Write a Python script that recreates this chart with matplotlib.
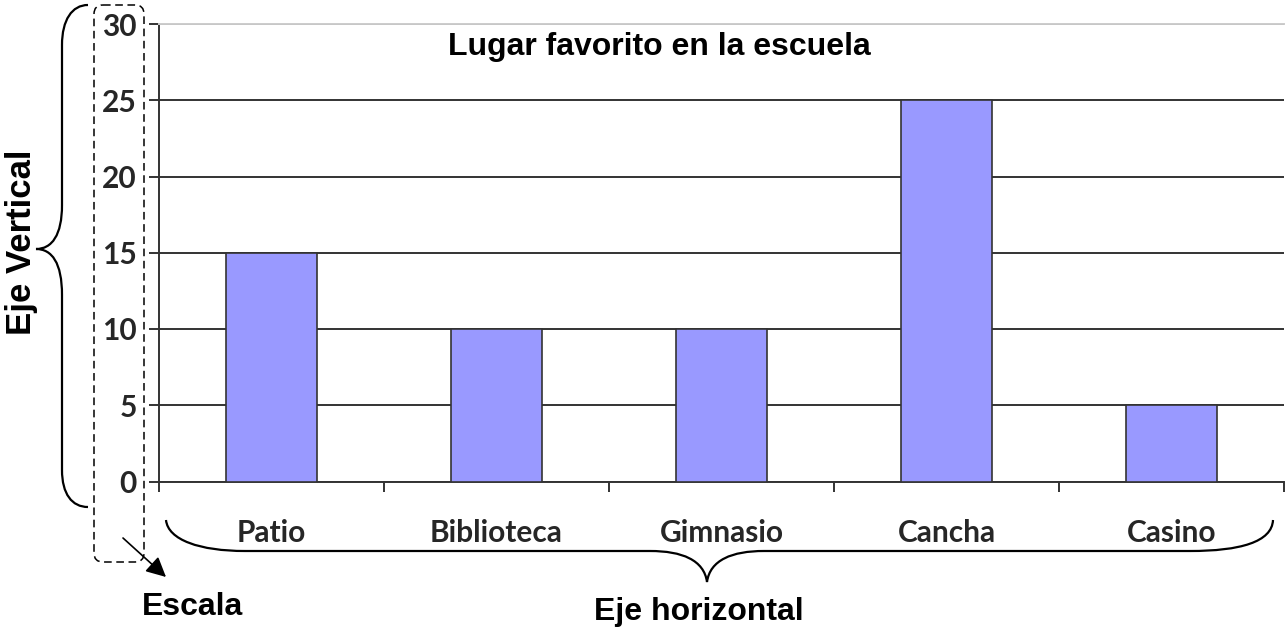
import numpy as np
import matplotlib
matplotlib.use("Agg")
import matplotlib.pyplot as plt
from matplotlib.path import Path
from matplotlib.patches import PathPatch, FancyBboxPatch

# data
lugares = ["Patio", "Biblioteca", "Gimnasio", "Cancha", "Casino"]
valores = [15, 10, 10, 25, 5]
yticks = [0, 5, 10, 15, 20, 25, 30]

W, H = 1288, 628
fig = plt.figure(figsize=(W / 100, H / 100), dpi=100)

# main chart area (pixel positions)
left, right, top, bottom = 159, 1284, 24, 481.5
ax = fig.add_axes([left / W, 1 - bottom / H, (right - left) / W, (bottom - top) / H])

x = np.arange(len(lugares))
ax.bar(x, valores, width=0.405, color="#9999ff", edgecolor="#333333", linewidth=1.2, zorder=3)

ax.set_xlim(-0.5, len(lugares) - 0.5)
ax.set_ylim(0, 30)
ax.set_yticks(yticks)
ax.yaxis.grid(True, color="#333333", linewidth=1.4, zorder=1)
ax.set_axisbelow(True)

ax.spines["right"].set_visible(False)
ax.spines["top"].set_color("#cccccc")
ax.spines["top"].set_linewidth(1.4)
ax.spines["left"].set_color("#333333")
ax.spines["left"].set_linewidth(1.4)
ax.spines["bottom"].set_color("#333333")
ax.spines["bottom"].set_linewidth(1.4)

tick_font = dict(family="Lato", weight="bold", size=21.5)
ax.set_yticklabels([str(v) for v in yticks], color="#262626", **tick_font)
ax.tick_params(axis="y", length=7, width=1.4, color="#333333", pad=9)

ax.set_xticks(x)
ax.set_xticklabels(lugares, color="#262626", **tick_font)
ax.tick_params(axis="x", which="major", length=0, pad=27)
ax.set_xticks(np.arange(len(lugares) + 1) - 0.5, minor=True)
ax.tick_params(axis="x", which="minor", length=7, width=1.4, color="#333333")

# overlay in pixel coordinates for the annotations
ov = fig.add_axes([0, 0, 1, 1], facecolor="none")
ov.set_xlim(0, W)
ov.set_ylim(H, 0)
ov.axis("off")

label_font = dict(family="Liberation Sans", weight="bold", color="black")
ov.text(659, 55, "Lugar favorito en la escuela", ha="center", va="baseline", size=23, **label_font)
ov.text(699, 620, "Eje horizontal", ha="center", va="baseline", size=23, **label_font)
ov.text(193, 615, "Escala", ha="center", va="baseline", size=23, **label_font)
ov.text(22, 242, "Eje Vertical", ha="center", va="center", rotation=90, size=25, **label_font)

M, L, C = Path.MOVETO, Path.LINETO, Path.CURVE4

# left curly brace
lb = [(88, 5), (72, 5), (62, 20), (62, 45),
      (62, 205),
      (62, 235), (52, 249), (36, 249),
      (52, 249), (62, 263), (62, 295),
      (62, 470),
      (62, 494), (72, 507), (88, 507)]
lc = [M, C, C, C, L, C, C, C, C, C, C, L, C, C, C]
ov.add_patch(PathPatch(Path(lb, lc), fill=False, lw=1.6, color="black"))

# bottom curly brace
bb = [(166, 520), (168, 540), (200, 551), (245, 551),
      (650, 551),
      (682, 551), (704, 560), (707, 582),
      (710, 560), (732, 551), (764, 551),
      (1190, 551),
      (1240, 551), (1272, 542), (1273, 520)]
bc = [M, C, C, C, L, C, C, C, C, C, C, L, C, C, C]
ov.add_patch(PathPatch(Path(bb, bc), fill=False, lw=1.6, color="black"))

# dashed box round the scale
box = FancyBboxPatch((94, 5), 50, 557, boxstyle="round,pad=0,rounding_size=9",
                     fill=False, edgecolor="black", lw=1.1, linestyle=(0, (5, 3)))
ov.add_patch(box)

# arrow to "Escala"
ov.annotate("", xy=(166, 577), xytext=(123, 538),
            arrowprops=dict(arrowstyle="-|>", color="black", lw=1.2, mutation_scale=30,
                            shrinkA=0, shrinkB=0))

fig.savefig("out.png", dpi=100, facecolor="white")
